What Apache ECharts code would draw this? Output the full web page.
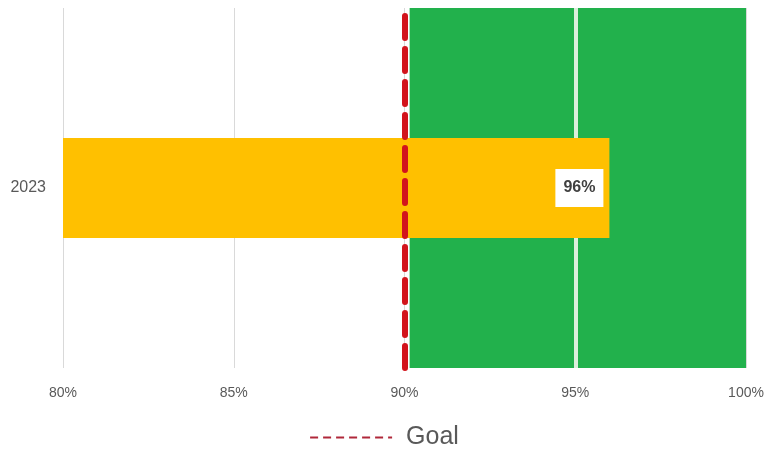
<!DOCTYPE html>
<html>
<head>
<meta charset="utf-8">
<script src="https://cdn.jsdelivr.net/npm/echarts@6/dist/echarts.min.js"></script>
<style>html,body{margin:0;padding:0;background:#fff}#c{width:768px;height:451px}</style>
</head>
<body>
<div id="c"></div>
<script>
const categories = ['2023'];
const actualValues = [96];
const goalValue = 90;
const greenBand = [90.15, 100];
const bandDivider = 95;
const xTicks = { min: 80, max: 100, interval: 5 };

const chart = echarts.init(document.getElementById('c'));
chart.setOption({
  animation: false,
  grid: { left: 63, right: 22, top: 8, bottom: 83, containLabel: false },
  legend: {
    data: [{ name: 'Goal', itemStyle: { opacity: 0 } }],
    top: 420,
    left: 'center',
    itemWidth: 82,
    itemHeight: 14,
    itemStyle: { opacity: 0 },
    textStyle: { fontFamily: 'Liberation Sans', fontSize: 25, color: '#595959', padding: [0, 0, 0, 9] }
  },
  xAxis: {
    type: 'value',
    min: xTicks.min, max: xTicks.max, interval: xTicks.interval,
    axisLine: { show: false },
    axisTick: { show: false },
    splitLine: { lineStyle: { color: '#d9d9d9', width: 1 } },
    axisLabel: { formatter: '{value}%', fontFamily: 'Liberation Sans', fontSize: 14, color: '#595959', margin: 18 }
  },
  yAxis: {
    type: 'category',
    data: categories,
    axisLine: { show: false },
    axisTick: { show: false },
    axisLabel: { fontFamily: 'Liberation Sans', fontSize: 16, color: '#595959', margin: 17 }
  },
  series: [
    {
      name: 'Band',
      type: 'line',
      data: [],
      silent: true,
      markArea: {
        z: 1,
        silent: true,
        itemStyle: { color: '#22b14c' },
        data: [[{ xAxis: greenBand[0] }, { xAxis: greenBand[1] }]]
      },
      markLine: {
        z: 1.5,
        silent: true,
        symbol: 'none',
        label: { show: false },
        lineStyle: { color: '#dcefdc', width: 4, type: 'solid' },
        data: [{ xAxis: bandDivider }]
      }
    },
    {
      name: 'Actual',
      type: 'bar',
      z: 3,
      data: actualValues,
      barWidth: 100,
      itemStyle: { color: '#ffc000' },
      label: {
        show: true,
        position: 'insideRight',
        distance: 6,
        formatter: '{c}%',
        backgroundColor: '#ffffff',
        padding: [11, 8, 11, 8],
        fontFamily: 'Liberation Sans',
        fontWeight: 'bold',
        fontSize: 16,
        color: '#404040'
      }
    },
    {
      name: 'Goal',
      type: 'line',
      data: [],
      symbol: 'none',
      showSymbol: false,
      itemStyle: { color: '#b0283a', opacity: 0 },
      lineStyle: { color: '#b0283a', width: 3.5, type: [8, 5], opacity: 1 },
      markLine: {
        z: 5,
        silent: true,
        symbol: 'none',
        label: { show: false },
        lineStyle: { color: '#d2141c', width: 6, type: [22, 11], cap: 'round', opacity: 1 },
        data: [{ xAxis: goalValue }]
      }
    }
  ]
});
</script>
</body>
</html>
